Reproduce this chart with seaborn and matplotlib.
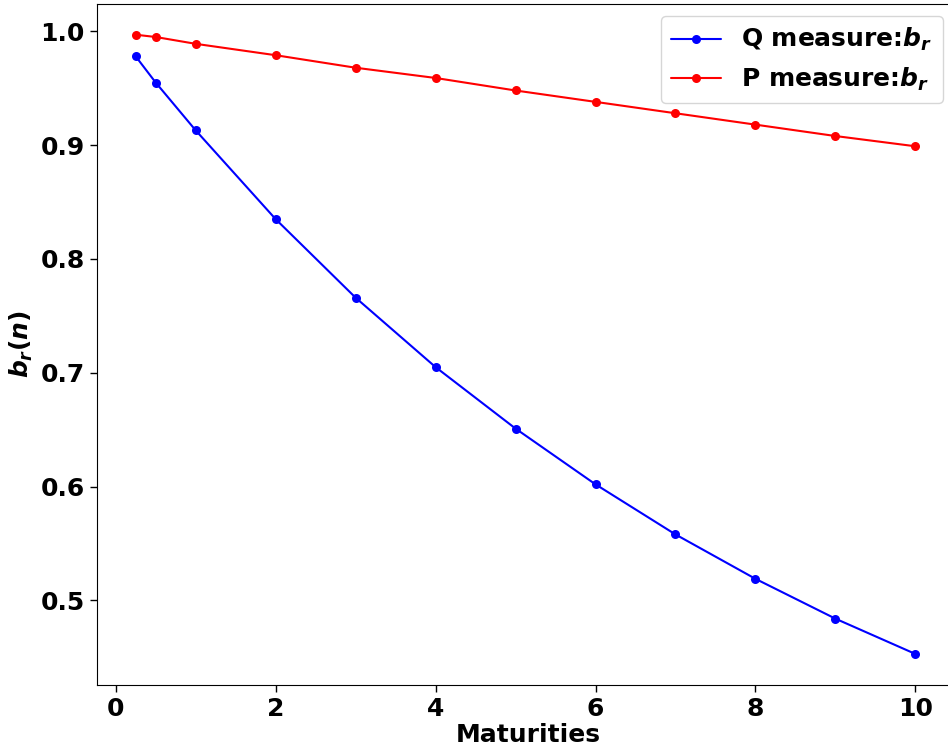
import numpy as np
import pandas as pd
import matplotlib
matplotlib.use("Agg")
import matplotlib.pyplot as plt
import seaborn as sns

# maturities (years) and the b_r(n) loadings
maturities = [0.25, 0.5, 1, 2, 3, 4, 5, 6, 7, 8, 9, 10]
q_measure = [0.978, 0.955, 0.913, 0.835, 0.766, 0.705, 0.651, 0.602, 0.558, 0.519, 0.484, 0.453]
p_measure = [0.997, 0.995, 0.989, 0.979, 0.968, 0.959, 0.948, 0.938, 0.928, 0.918, 0.908, 0.899]

df = pd.DataFrame({
    "Maturities": maturities * 2,
    "b": q_measure + p_measure,
    "measure": ["Q measure:$b_r$"] * len(maturities) + ["P measure:$b_r$"] * len(maturities),
})

sns.set_style("ticks")
plt.rcParams["font.family"] = ["DejaVu Sans"]
plt.rcParams["font.weight"] = "bold"
plt.rcParams["axes.labelweight"] = "bold"
plt.rcParams["text.color"] = "black"
plt.rcParams["axes.labelcolor"] = "black"
plt.rcParams["xtick.color"] = "black"
plt.rcParams["ytick.color"] = "black"
plt.rcParams["axes.edgecolor"] = "black"

fig, ax = plt.subplots(figsize=(9.48, 7.51), dpi=100)
sns.lineplot(data=df, x="Maturities", y="b", hue="measure",
             palette=["blue", "red"], marker="o", markersize=6.5,
             markeredgewidth=0, linewidth=1.5, ax=ax)

ax.set_xlabel("Maturities", fontsize=18, fontweight="bold", labelpad=2)
ax.set_ylabel("$\\boldsymbol{b_r(n)}$", fontsize=18, fontweight="bold")
ax.tick_params(labelsize=18, width=1, length=5)
for lbl in ax.get_xticklabels() + ax.get_yticklabels():
    lbl.set_fontweight("bold")
ax.set_xticks([0, 2, 4, 6, 8, 10])
ax.set_yticks([0.5, 0.6, 0.7, 0.8, 0.9, 1.0])
# the original is cropped on the right, so the right spine falls off the canvas
ax.set_xlim(-0.2375, 10.55)

leg = ax.legend(title=None, fontsize=18, loc="upper right", handlelength=2.0,
                bbox_to_anchor=(0.995, 1.0))
for t in leg.get_texts():
    t.set_fontweight("bold")
    t.set_color("black")

fig.subplots_adjust(left=0.102, right=1.012, top=0.995, bottom=0.088)
fig.savefig("out.png", dpi=100)
